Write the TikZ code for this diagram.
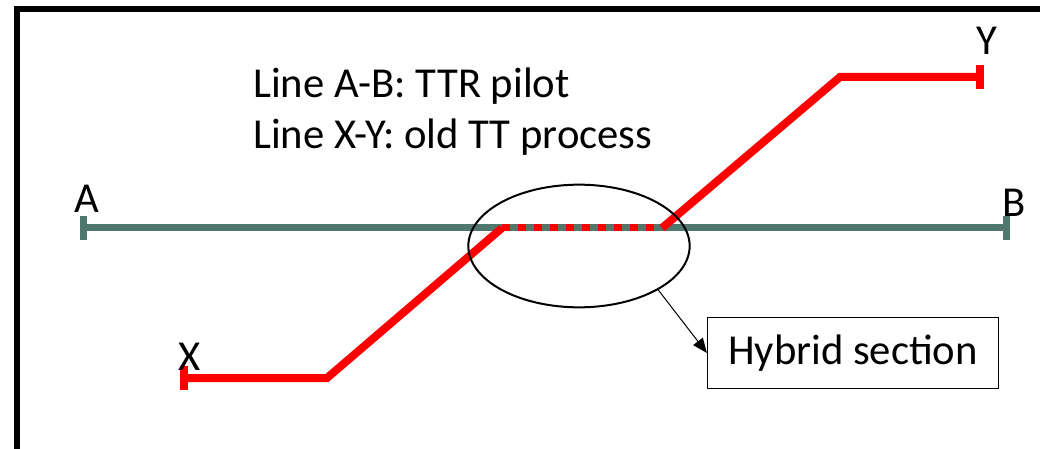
\documentclass[tikz,border=0pt]{standalone}
\usepackage{fontspec}
\setmainfont{Carlito}
\usetikzlibrary{arrows.meta,shapes.geometric}
\definecolor{gline}{RGB}{80,120,110}
\begin{document}
\begin{tikzpicture}[x=0.75pt,y=-0.75pt,
  frame/.style={draw=black,line width=4.5pt},
  abline/.style={draw=gline,line width=5.25pt,{Bar[width=18pt]}-{Bar[width=18pt]}},
  redline/.style={draw=red,line width=6pt},
  reddash/.style={draw=red,line width=5.25pt,dash pattern=on 6pt off 6pt},
  lbl/.style={font=\fontsize{32}{36}\selectfont,inner sep=0pt},
  hyb/.style={draw=black,line width=1.1pt,font=\fontsize{32}{36}\selectfont,minimum width=218pt,minimum height=53pt,inner sep=0pt},
  ell/.style={draw=black,line width=1.5pt,ellipse,minimum width=166pt,minimum height=92pt,inner sep=0pt}
]
\useasboundingbox (0,0) rectangle (1040,449);
\begin{scope}
\clip (0,0) rectangle (1040,449);
\draw[frame] (17,9) rectangle (1080,480);
\end{scope}
% coordinates
\coordinate (A) at (80,228);
\coordinate (B) at (1010,228);
\coordinate (X) at (180,378);
\coordinate (k1) at (327,378);
\coordinate (h1) at (502,228);
\coordinate (h2) at (662,228);
\coordinate (k2) at (840,77);
\coordinate (Y) at (984,77);
% A-B line
\draw[abline] (A) -- (B);
% X-Y line
\draw[redline,{Bar[width=18pt]}-] (X) -- (k1) -- (h1);
\draw[reddash] (h1) -- (h2);
\draw[redline,-{Bar[width=18pt]}] (h2) -- (k2) -- (Y);
% labels
\node[lbl,anchor=base] (la) at (87,213) {A};
\node[lbl,anchor=base] (lb) at (1014,217) {B};
\node[lbl,anchor=base] (lx) at (190,370) {X};
\node[lbl,anchor=base] (ly) at (987,55) {Y};
\node[lbl,anchor=base west] (t1) at (253,98) {Line A-B: TTR pilot};
\node[lbl,anchor=base west] (t2) at (253,149) {Line X-Y: old TT process};
% ellipse and box
\node[ell] (E) at (579,246) {};
\node[hyb] (H) at (853,353) {Hybrid section};
\draw[black,line width=0.75pt,-{Triangle[length=11pt,width=9pt]}] (E.-29) -- (H.west);
\end{tikzpicture}
\end{document}
